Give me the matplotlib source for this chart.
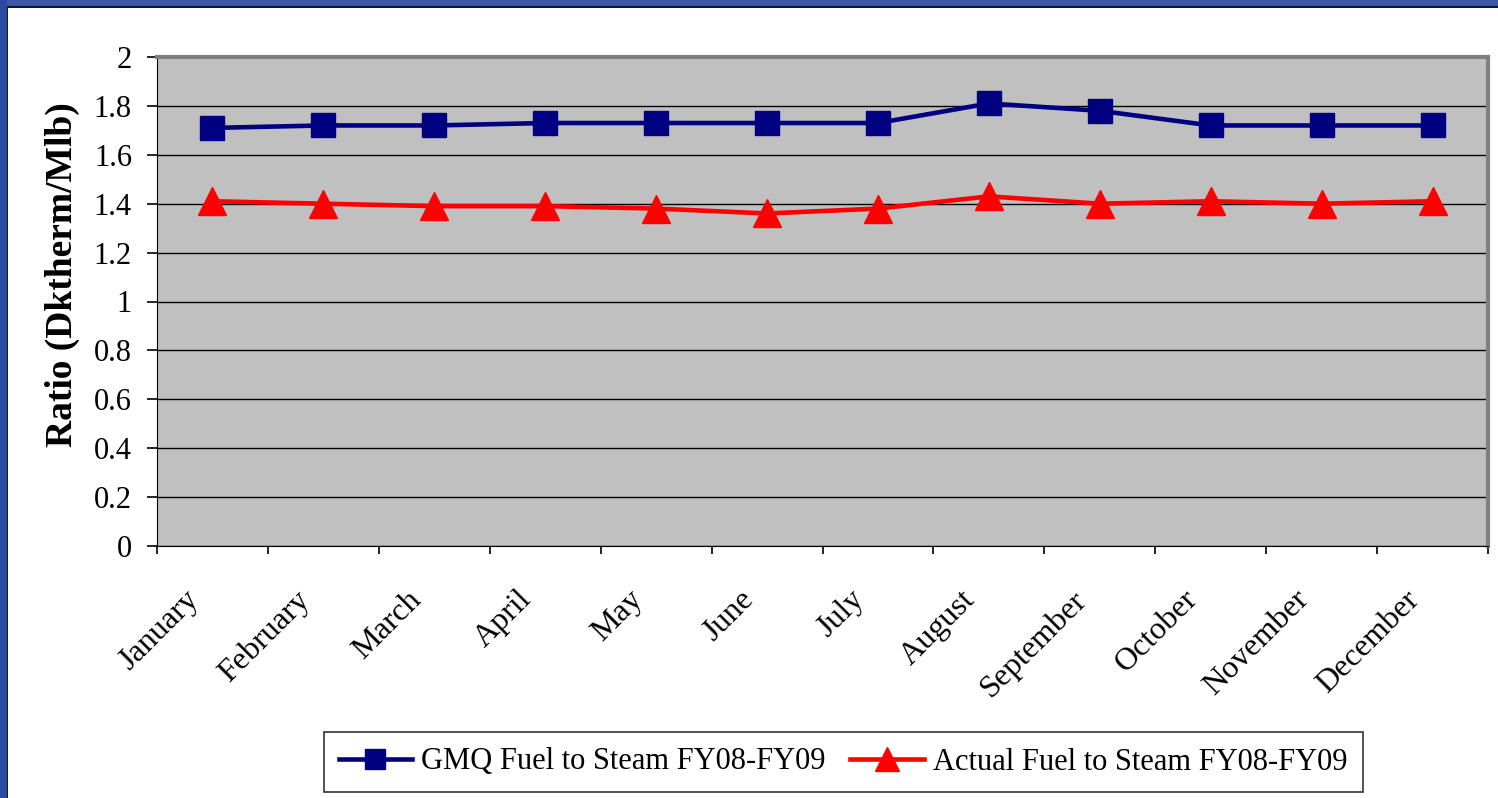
import matplotlib.pyplot as plt
import matplotlib.transforms as mtransforms
import numpy as np
from matplotlib.patches import Rectangle

months = ["January", "February", "March", "April", "May", "June",
          "July", "August", "September", "October", "November", "December"]
gmq = [1.71, 1.72, 1.72, 1.73, 1.73, 1.73, 1.73, 1.81, 1.78, 1.72, 1.72, 1.72]
actual = [1.41, 1.40, 1.39, 1.39, 1.38, 1.36, 1.38, 1.43, 1.40, 1.41, 1.40, 1.41]
yticks = [0, 0.2, 0.4, 0.6, 0.8, 1, 1.2, 1.4, 1.6, 1.8, 2]
ytick_labels = ["0", "0.2", "0.4", "0.6", "0.8", "1", "1.2", "1.4", "1.6", "1.8", "2"]

plt.rcParams["font.family"] = ["Liberation Serif", "DejaVu Serif"]

fig = plt.figure(figsize=(14.98, 7.98), dpi=100)
W, H = 1498, 798

# blue slide frame
fig.patches.append(Rectangle((0, 1 - 6 / H), 1, 6 / H, transform=fig.transFigure,
                             facecolor="#3d5aa8", edgecolor="none"))
fig.patches.append(Rectangle((0, 0), 7 / W, 1, transform=fig.transFigure,
                             facecolor="#2a4aa0", edgecolor="none"))
fig.patches.append(Rectangle((7 / W, 0), 1.5 / W, 1 - 6 / H, transform=fig.transFigure,
                             facecolor="#101830", edgecolor="none"))
fig.patches.append(Rectangle((7 / W, 1 - 7.5 / H), 1, 1.5 / H, transform=fig.transFigure,
                             facecolor="#101830", edgecolor="none"))

left, right, top, bottom = 157, 1488, 57, 546
ax = fig.add_axes([left / W, 1 - bottom / H, (right - left) / W, (bottom - top) / H])
ax.set_facecolor("#c0c0c0")

x = np.arange(len(months))
ax.plot(x, gmq, color="#000080", lw=3.3, marker="s", markersize=17.5,
        label="GMQ Fuel to Steam FY08-FY09")
ax.plot(x, actual, color="#ff0000", lw=3.3, marker="^", markersize=20,
        label="Actual Fuel to Steam FY08-FY09")

ax.set_xlim(-0.5, len(months) - 0.5)
ax.set_ylim(0, 2)
ax.set_yticks(yticks)
ax.set_yticklabels(ytick_labels, fontsize=22)
ax.yaxis.grid(True, color="black", lw=1)
ax.set_axisbelow(True)

# category boundaries as ticks, month names placed between them
ax.set_xticks(np.arange(-0.5, len(months) + 0.5, 1))
ax.set_xticklabels([])
ax.tick_params(axis="x", direction="out", length=6, width=1.2)
ax.tick_params(axis="y", direction="out", length=7, width=1.2, pad=11)

shift = mtransforms.ScaledTranslation(-0.28, -0.39, fig.dpi_scale_trans)
for i, m in enumerate(months):
    ax.text(x[i], 0, m, transform=ax.get_xaxis_transform() + shift,
            rotation=45, ha="right", va="top", rotation_mode="anchor",
            fontsize=23, clip_on=False)

ax.spines["top"].set_color("#808080")
ax.spines["right"].set_color("#808080")
ax.spines["top"].set_linewidth(3)
ax.spines["right"].set_linewidth(3)
ax.spines["left"].set_color("black")
ax.spines["bottom"].set_color("black")

ax.set_ylabel("Ratio (Dktherm/Mlb)", fontsize=27, fontweight="bold")
ax.yaxis.set_label_coords((80 - left) / (right - left), (bottom - 275) / (bottom - top))

leg = fig.legend(loc="center", bbox_to_anchor=(843 / W, 1 - 762 / H), ncol=2,
                 fontsize=22, frameon=True, fancybox=False, edgecolor="black",
                 handlelength=2.4, columnspacing=0.8, handletextpad=0.3,
                 borderpad=0.5, markerscale=0.85)
leg.get_frame().set_linewidth(1.2)

fig.savefig("out.png", dpi=100, facecolor="white")
